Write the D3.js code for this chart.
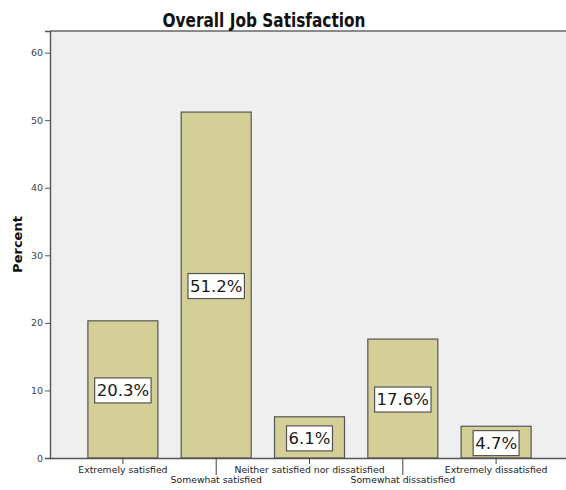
<!DOCTYPE html>
<html><head><meta charset="utf-8">
<script src="https://cdn.jsdelivr.net/npm/d3@7"></script>
<style>body{margin:0;background:#fff}svg{display:block}</style>
</head><body>
<script>
const categories = ["Extremely satisfied","Somewhat satisfied","Neither satisfied nor dissatisfied","Somewhat dissatisfied","Extremely dissatisfied"];
const percents = [20.3, 51.2, 6.1, 17.6, 4.7];
const yTicks = [0,10,20,30,40,50,60];
const title = "Overall Job Satisfaction";
const yLabel = "Percent";

const W=566,H=490;
const pL=50,pR=569,pT=31,pB=458;
const svg=d3.select("body").append("svg").attr("width",W).attr("height",H);
const font="'DejaVu Sans', Verdana, sans-serif";

const x=d3.scaleBand().domain(categories).range([pL,pR]).paddingInner(0.25).paddingOuter(0.406);
const y=d3.scaleLinear().domain([0,63.2]).range([pB,pT]);

svg.append("rect").attr("x",pL).attr("y",pT).attr("width",W-pL+5).attr("height",pB-pT).attr("fill","#efefef");
svg.append("line").attr("x1",pL).attr("x2",W).attr("y1",pT).attr("y2",pT).attr("stroke","#666").attr("stroke-width",1.6);

svg.selectAll("rect.bar").data(percents).enter().append("rect").attr("class","bar")
 .attr("x",(d,i)=>x(categories[i])).attr("width",x.bandwidth())
 .attr("y",d=>y(d)).attr("height",d=>pB-y(d))
 .attr("fill","#d3cf97").attr("stroke","#555").attr("stroke-width",1.2);

// y axis
const ya=svg.append("g").attr("transform",`translate(${pL},0)`)
 .call(d3.axisLeft(y).tickValues(yTicks).tickSize(5).tickPadding(2).tickFormat(d3.format("d")));
ya.select(".domain").attr("stroke","#555").attr("stroke-width",1.4);
ya.selectAll(".tick line").attr("stroke","#555");
ya.selectAll("text").attr("font-family",font).attr("font-size",9.5).attr("fill","#444");

// x axis
const xa=svg.append("g").attr("transform",`translate(0,${pB})`)
 .call(d3.axisBottom(x).tickSizeOuter(0).tickSize(0));
xa.select(".domain").attr("stroke","#555").attr("stroke-width",1.4);
xa.selectAll(".tick text").remove();
xa.selectAll(".tick").each(function(d,i){
  const g=d3.select(this);
  const long=i%2===1;
  g.append("line").attr("y1",0).attr("y2",long?17:6).attr("stroke","#444");
  g.append("text").attr("y",long?25:15).attr("text-anchor","middle")
   .attr("font-family",font).attr("font-size",9.3).attr("fill","#222").text(d);
});

// value labels
const lab=svg.selectAll("g.lab").data(percents).enter().append("g")
 .attr("transform",(d,i)=>`translate(${x(categories[i])+x.bandwidth()/2},${(y(d)+pB)/2+1})`);
lab.each(function(d){
  const g=d3.select(this);
  const t=g.append("text").attr("text-anchor","middle").attr("dy","0.36em")
   .attr("font-family",font).attr("font-size",16.5).attr("fill","#1a1a1a").text(d.toFixed(1)+"%");
  const bb=t.node().getBBox();
  g.insert("rect","text").attr("x",bb.x-2).attr("y",-12.5).attr("width",bb.width+4).attr("height",25)
   .attr("fill","#fff").attr("stroke","#555").attr("stroke-width",1.2);
});

svg.append("text").attr("x",264).attr("y",27).attr("text-anchor","middle")
 .attr("font-family",font).attr("font-weight","bold").attr("font-size",20)
 .attr("textLength",203).attr("lengthAdjust","spacingAndGlyphs").attr("fill","#111").text(title);
svg.append("text").attr("transform",`translate(22,${(pT+pB)/2}) rotate(-90)`).attr("text-anchor","middle")
 .attr("font-family",font).attr("font-weight","bold").attr("font-size",13).attr("fill","#111").text(yLabel);
</script>
</body></html>
